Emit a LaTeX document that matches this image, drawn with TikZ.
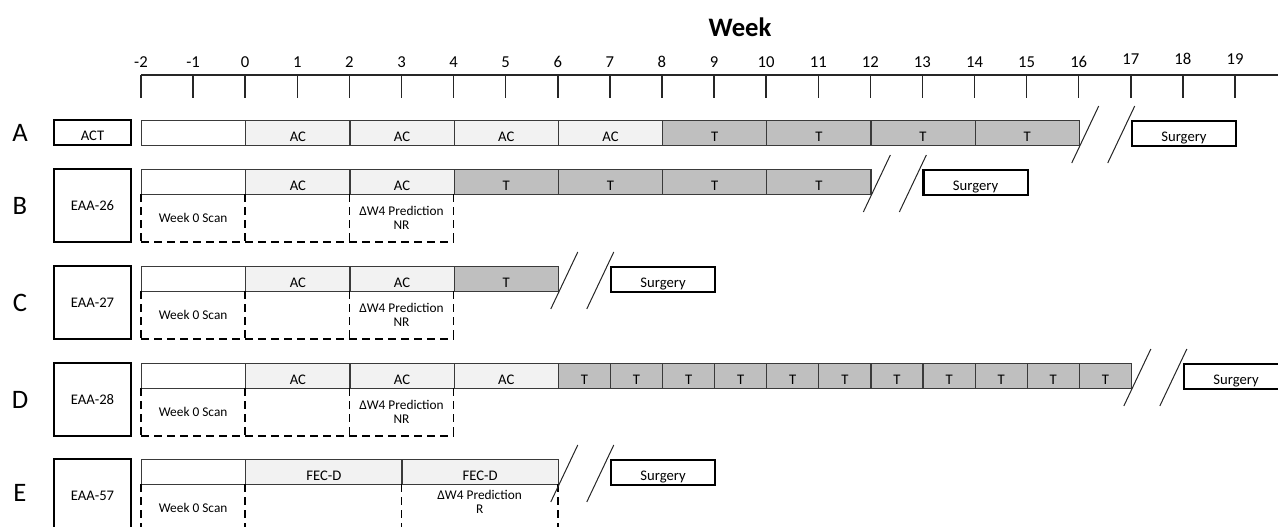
\documentclass[tikz,border=0pt]{standalone}
\usepackage{fontspec}
\setmainfont{Carlito}
\usetikzlibrary{calc}
\definecolor{lightfill}{HTML}{F2F2F2}
\definecolor{darkfill}{HTML}{BFBFBF}
\definecolor{edgegray}{HTML}{3A3A3A}
\newcommand{\wkx}[1]{245.2+52.095*(#1)}
\newcommand{\barcell}[6]{\node[cellbox, fill=#5, minimum width={(#3-(#2))*39.071pt}] (#1) at ({\wkx{#2}},#4) {#6};}
\newcommand{\dashgrid}[4]{%
  \foreach \w [count=\k] in {#3} {\draw[dashline] ({\wkx{\w}},{#2+25}) -- ({\wkx{\w}},{#2+73});}
  \coordinate (#1dl) at ({\wkx{-2}},{#2+73});
  \coordinate (#1dr) at ({\wkx{#4}},{#2+73});
  \draw[dashline] (#1dl) -- (#1dr);}
\newcommand{\brk}[3]{%
  \coordinate (#1p1) at ({\wkx{#2}+20},{#3-14});
  \coordinate (#1q1) at ({\wkx{#2}-7},{#3+43});
  \coordinate (#1p2) at ({\wkx{#2}+56},{#3-14});
  \coordinate (#1q2) at ({\wkx{#2}+29},{#3+43});
  \draw[slash] (#1p1) -- (#1q1);
  \draw[slash] (#1p2) -- (#1q2);}
\tikzset{
  cellbox/.style={draw=edgegray, line width=0.9pt, minimum height=18.75pt, inner sep=0pt,
    anchor=north west, font=\fontsize{11}{12}\selectfont, text height=12pt, text depth=0pt},
  surgbox/.style={draw=black, line width=1.6pt, fill=white, minimum height=18.75pt, inner sep=0pt,
    anchor=north west, font=\fontsize{11}{12}\selectfont, text height=12pt, text depth=0pt},
  tagbox/.style={draw=black, line width=1.6pt, minimum width=57.75pt, inner sep=0pt,
    font=\fontsize{11}{12}\selectfont},
  rowlab/.style={font=\fontsize{20}{22}\selectfont, inner sep=0pt},
  ticklab/.style={font=\fontsize{12.5}{14}\selectfont, inner sep=0pt},
  scantext/.style={font=\fontsize{10}{10.5}\selectfont, inner sep=0pt, align=center},
  dashline/.style={draw=black, line width=1.1pt, dash pattern=on 6pt off 3.75pt},
  slash/.style={draw=black!85, line width=0.75pt},
  axisline/.style={draw=black!85, line width=1.1pt}
}
\begin{document}
\begin{tikzpicture}[x=0.75pt,y=-0.75pt]
\useasboundingbox (0,0) rectangle (1278,526);
\clip (0,0) rectangle (1278,526);

% title and axis
\node[font=\bfseries\fontsize{20}{22}\selectfont, inner sep=0pt] (week) at (740,27) {Week};
\coordinate (axL) at ({\wkx{-2}},75);
\coordinate (axR) at (1278,75);
\draw[axisline] (axL) -- (axR);
\foreach \i in {-2,...,16} {
  \node[ticklab] (t\i) at ({\wkx{\i}},62) {\i};
  \coordinate (tk\i) at ({\wkx{\i}},75);
  \coordinate (tb\i) at ({\wkx{\i}},98);
  \draw[axisline] (tk\i) -- (tb\i);
}
\foreach \i in {17,18,19} {
  \node[ticklab] (t\i) at ({\wkx{\i}},59) {\i};
  \coordinate (tk\i) at ({\wkx{\i}},75);
  \coordinate (tb\i) at ({\wkx{\i}},98);
  \draw[axisline] (tk\i) -- (tb\i);
}

% row labels
\node[rowlab] (labA) at (20,133) {A};
\node[rowlab] (labB) at (20,205.5) {B};
\node[rowlab] (labC) at (20,302.5) {C};
\node[rowlab] (labD) at (20,399.5) {D};
\node[rowlab] (labE) at (20,493) {E};

% regimen boxes
\node[tagbox, minimum height=18.75pt, text height=12pt, text depth=0pt] (act) at (92.5,132.5) {ACT};
\node[tagbox, minimum height=54.75pt] (eaa26) at (92.5,205.5) {EAA-26};
\node[tagbox, minimum height=54.75pt] (eaa27) at (92.5,302.5) {EAA-27};
\node[tagbox, minimum height=54.75pt] (eaa28) at (92.5,399.5) {EAA-28};
\node[tagbox, minimum height=54.75pt] (eaa57) at (92.5,495.5) {EAA-57};

% Row A
\barcell{A0}{-2}{0}{120}{white}{}
\barcell{A1}{0}{2}{120}{lightfill}{AC}
\barcell{A2}{2}{4}{120}{lightfill}{AC}
\barcell{A3}{4}{6}{120}{lightfill}{AC}
\barcell{A4}{6}{8}{120}{lightfill}{AC}
\barcell{A5}{8}{10}{120}{darkfill}{T}
\barcell{A6}{10}{12}{120}{darkfill}{T}
\barcell{A7}{12}{14}{120}{darkfill}{T}
\barcell{A8}{14}{16}{120}{darkfill}{T}
\brk{brA}{16}{120}
\node[surgbox, minimum width={2*39.071pt}] (surgA) at ({\wkx{17}},120) {Surgery};

% Row B
\barcell{B0}{-2}{0}{169}{white}{}
\barcell{B1}{0}{2}{169}{lightfill}{AC}
\barcell{B2}{2}{4}{169}{lightfill}{AC}
\barcell{B3}{4}{6}{169}{darkfill}{T}
\barcell{B4}{6}{8}{169}{darkfill}{T}
\barcell{B5}{8}{10}{169}{darkfill}{T}
\barcell{B6}{10}{12}{169}{darkfill}{T}
\dashgrid{B}{169}{-2,0,2,4}{4}
\node[scantext] (scanB) at ({\wkx{-1}},218) {Week 0 Scan};
\node[scantext] (predB) at ({\wkx{3}},218) {ΔW4 Prediction\\NR};
\brk{brB}{12}{169}
\node[surgbox, minimum width={2*39.071pt}] (surgB) at ({\wkx{13}},169) {Surgery};

% Row C
\barcell{C0}{-2}{0}{266}{white}{}
\barcell{C1}{0}{2}{266}{lightfill}{AC}
\barcell{C2}{2}{4}{266}{lightfill}{AC}
\barcell{C3}{4}{6}{266}{darkfill}{T}
\dashgrid{C}{266}{-2,0,2,4}{4}
\node[scantext] (scanC) at ({\wkx{-1}},315) {Week 0 Scan};
\node[scantext] (predC) at ({\wkx{3}},315) {ΔW4 Prediction\\NR};
\brk{brC}{6}{266}
\node[surgbox, minimum width={2*39.071pt}] (surgC) at ({\wkx{7}},266) {Surgery};

% Row D
\barcell{D0}{-2}{0}{363}{white}{}
\barcell{D1}{0}{2}{363}{lightfill}{AC}
\barcell{D2}{2}{4}{363}{lightfill}{AC}
\barcell{D3}{4}{6}{363}{lightfill}{AC}
\foreach \i in {6,...,16} {\barcell{DT\i}{\i}{\i+1}{363}{darkfill}{T}}
\dashgrid{D}{363}{-2,0,2,4}{4}
\node[scantext] (scanD) at ({\wkx{-1}},412) {Week 0 Scan};
\node[scantext] (predD) at ({\wkx{3}},412) {ΔW4 Prediction\\NR};
\brk{brD}{17}{363}
\node[surgbox, minimum width={2*39.071pt}] (surgD) at ({\wkx{18}},363) {Surgery};

% Row E
\barcell{E0}{-2}{0}{459}{white}{}
\barcell{E1}{0}{3}{459}{lightfill}{FEC-D}
\barcell{E2}{3}{6}{459}{lightfill}{FEC-D}
\dashgrid{E}{459}{-2,0,3,6}{6}
\node[scantext] (scanE) at ({\wkx{-1}},508) {Week 0 Scan};
\node[scantext] (predE) at ({\wkx{4.5}},501.5) {ΔW4 Prediction\\R};
\brk{brE}{6}{459}
\node[surgbox, minimum width={2*39.071pt}] (surgE) at ({\wkx{7}},459) {Surgery};
\end{tikzpicture}
\end{document}
